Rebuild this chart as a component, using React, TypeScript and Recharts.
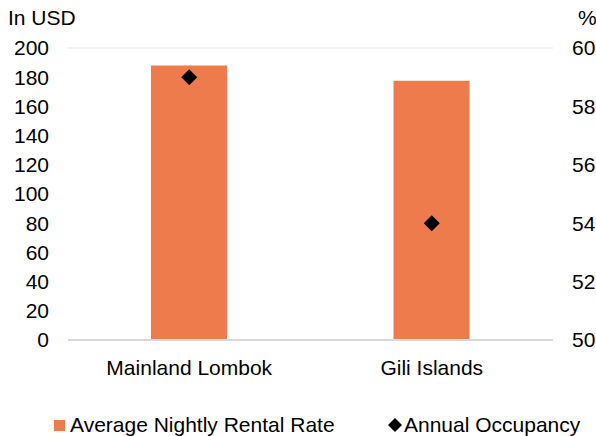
import React from "react";
import { ComposedChart, Bar, Scatter, XAxis, YAxis, CartesianGrid } from "recharts";

const categories = ["Mainland Lombok", "Gili Islands"];
const rentalRate = [188, 177.5];
const occupancy = [59, 54];
const leftTicks = [0, 20, 40, 60, 80, 100, 120, 140, 160, 180, 200];
const rightTicks = [50, 52, 54, 56, 58, 60];
const seriesNames = ["Average Nightly Rental Rate", "Annual Occupancy"];

const BAR_COLOR = "#EE7B4C";
const FONT = "'Liberation Sans', Arial, sans-serif";
const FS = 21;

const data = categories.map((c, i) => ({ name: c, rate: rentalRate[i], occ: occupancy[i] }));

const Diamond = (props: any) => {
  const { cx, cy } = props;
  const r = 8;
  return <path d={`M${cx},${cy - r}L${cx + r},${cy}L${cx},${cy + r}L${cx - r},${cy}Z`} fill="#000" />;
};

export default function App() {
  return (
    <div style={{ position: "absolute", left: 0, top: 0, width: 596, height: 436, background: "#fff" }}>
      <ComposedChart
        width={596}
        height={436}
        data={data}
        margin={{ top: 48, right: 0, bottom: 56, left: 0 }}
        style={{ fontFamily: FONT }}
      >
        <CartesianGrid vertical={false} stroke="#eeeeee" strokeWidth={1.5} />
        <XAxis
          dataKey="name"
          axisLine={{ stroke: "#d9d9d9", strokeWidth: 2 }}
          tickLine={false}
          tick={{ fill: "#000", fontSize: FS, fontFamily: FONT }}
          tickMargin={14}
          height={40}
        />
        <YAxis
          yAxisId="left"
          domain={[0, 200]}
          ticks={leftTicks}
          width={68}
          axisLine={false}
          tickLine={false}
          tickSize={0}
          tickMargin={19}
          interval={0}
          tick={{ fill: "#000", fontSize: FS, fontFamily: FONT }}
        />
        <YAxis
          yAxisId="right"
          orientation="right"
          domain={[50, 60]}
          ticks={rightTicks}
          width={43}
          axisLine={false}
          tickLine={false}
          tickSize={0}
          tickMargin={19}
          interval={0}
          tick={{ fill: "#000", fontSize: FS, fontFamily: FONT, textAnchor: "start" }}
        />
        <Bar yAxisId="left" dataKey="rate" fill={BAR_COLOR} barSize={76} isAnimationActive={false} />
        <Scatter yAxisId="right" dataKey="occ" shape={<Diamond />} isAnimationActive={false} />
      </ComposedChart>
      <div style={{ position: "absolute", left: 8, top: 6, fontFamily: FONT, fontSize: FS, color: "#000" }}>In USD</div>
      <div style={{ position: "absolute", left: 578, top: 6, fontFamily: FONT, fontSize: FS, color: "#000" }}>%</div>
      <div style={{ position: "absolute", left: 54, top: 412, height: 26, display: "flex", alignItems: "center", fontFamily: FONT, fontSize: FS, color: "#000" }}>
        <span style={{ display: "inline-block", width: 11, height: 11, background: BAR_COLOR, marginRight: 5 }} />
        <span>{seriesNames[0]}</span>
      </div>
      <div style={{ position: "absolute", left: 388, top: 412, height: 26, display: "flex", alignItems: "center", fontFamily: FONT, fontSize: FS, color: "#000" }}>
        <svg width={14} height={14} style={{ marginRight: 2 }}>
          <path d="M7,0L14,7L7,14L0,7Z" fill="#000" />
        </svg>
        <span>{seriesNames[1]}</span>
      </div>
    </div>
  );
}
